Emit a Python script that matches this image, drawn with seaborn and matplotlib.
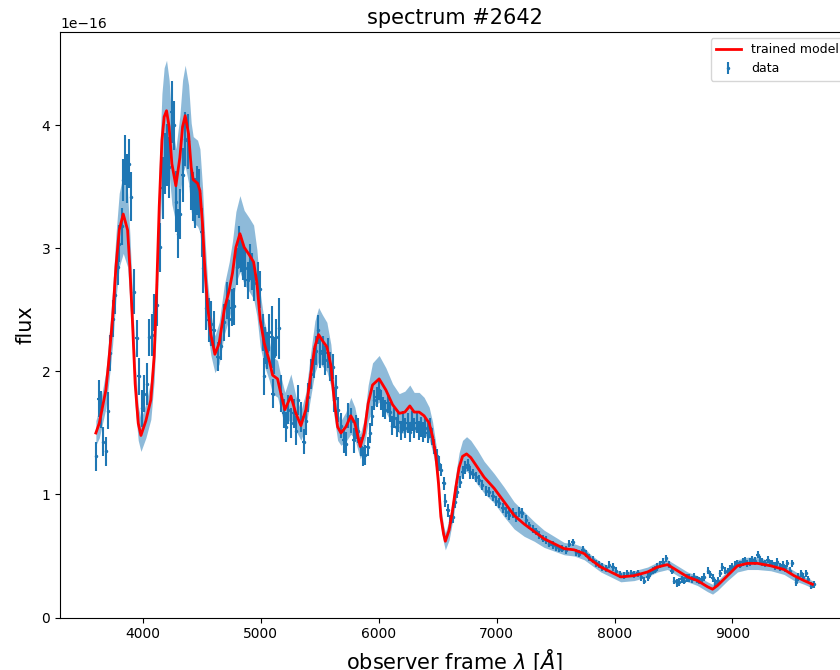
import matplotlib
matplotlib.use("Agg")
import matplotlib.pyplot as plt
from matplotlib.container import ErrorbarContainer
from matplotlib.legend_handler import HandlerErrorbar
import seaborn as sns
import numpy as np

# ---- data (flux in units of 1e-16) ----
data_wave = [3604, 3627, 3647, 3666, 3689, 3708, 3725, 3746, 3765, 3788, 3802, 3822, 3836, 3853, 3867, 3881,
             3901, 3929, 3949, 3966, 3994, 4014, 4036, 4056, 4079, 4098, 4119, 4147, 4169, 4189, 4206, 4225,
             4246, 4263, 4282, 4302, 4319, 4339, 4358, 4381, 4409, 4429, 4446, 4460, 4480, 4500, 4514, 4536,
             4559, 4579, 4602, 4636, 4664, 4692, 4714, 4734, 4754, 4776, 4799, 4819, 4833, 4850, 4870, 4890,
             4909, 4926, 4946, 4975, 4994, 5017, 5031, 5040, 5053, 5073, 5093, 5102, 5110, 5130, 5158, 5172,
             5195, 5214, 5234, 5257, 5280, 5299, 5319, 5342, 5364, 5384, 5403, 5426, 5449, 5469, 5488, 5505,
             5525, 5545, 5568, 5590, 5610, 5624, 5638, 5658, 5681, 5703, 5723, 5742, 5765, 5788, 5808, 5827,
             5850, 5869, 5886, 5907, 5926, 5943, 5963, 5983, 6000, 6019, 6039, 6056, 6076, 6096, 6113, 6132,
             6153, 6169, 6189, 6208, 6225, 6246, 6265, 6282, 6302, 6322, 6339, 6359, 6378, 6395, 6415, 6435,
             6452, 6471, 6494, 6514, 6528, 6551, 6565, 6585, 6607, 6627, 6647, 6669, 6691, 6712, 6731, 6754,
             6776, 6797, 6825, 6853, 6881, 6909, 6937, 6966, 6994, 7022, 7051, 7079, 7107, 7136, 7164, 7192,
             7220, 7248, 7276, 7305, 7333, 7361, 7390, 7418, 7446, 7475, 7503, 7531, 7559, 7587, 7615, 7644,
             7672, 7700, 7729, 7757, 7785, 7814, 7842, 7870, 7898, 7926, 7954, 7983, 8011, 8046, 8081, 8110,
             8138, 8166, 8195, 8222, 8251, 8280, 8300, 8322, 8343, 8364, 8385, 8407, 8435, 8463, 8484, 8505,
             8527, 8548, 8569, 8590, 8611, 8632, 8654, 8675, 8696, 8717, 8738, 8759, 8793, 8812, 8831, 8852,
             8873, 8894, 8915, 8937, 8958, 8979, 9000, 9021, 9042, 9064, 9085, 9106, 9127, 9148, 9169, 9190,
             9212, 9233, 9254, 9275, 9297, 9318, 9339, 9360, 9381, 9402, 9424, 9445, 9466, 9487, 9508, 9536,
             9557, 9579, 9600, 9621, 9642, 9663, 9690]
data_flux = [1.31, 1.78, 1.69, 1.43, 1.35, 1.68, 2.15, 2.43, 2.62, 2.85, 3.04, 3.18, 3.56, 3.72, 3.57, 3.69,
             3.42, 2.65, 2.27, 1.96, 1.70, 1.82, 1.90, 2.28, 2.30, 2.48, 2.54, 3.01, 3.49, 3.69, 3.76, 3.66,
             4.11, 4.00, 3.38, 3.12, 3.28, 3.60, 3.89, 3.87, 3.51, 3.42, 3.37, 3.47, 3.45, 3.13, 2.84, 2.52,
             2.42, 2.39, 2.34, 2.12, 2.21, 2.40, 2.58, 2.43, 2.52, 2.53, 2.85, 3.01, 2.96, 2.89, 2.84, 2.74,
             2.89, 2.81, 2.72, 2.74, 2.67, 2.32, 1.96, 2.21, 2.17, 2.32, 2.28, 1.82, 2.13, 2.28, 2.35, 1.82,
             1.66, 1.55, 1.69, 1.58, 1.66, 1.52, 1.77, 1.63, 1.43, 1.60, 1.79, 1.98, 2.07, 2.17, 2.34, 2.15,
             2.17, 2.09, 2.15, 2.04, 2.04, 1.77, 1.87, 1.69, 1.56, 1.44, 1.41, 1.64, 1.60, 1.44, 1.55, 1.52,
             1.39, 1.31, 1.32, 1.39, 1.50, 1.64, 1.77, 1.79, 1.85, 1.77, 1.71, 1.69, 1.74, 1.67, 1.56, 1.62,
             1.55, 1.59, 1.52, 1.60, 1.54, 1.58, 1.51, 1.60, 1.54, 1.58, 1.52, 1.55, 1.51, 1.54, 1.50, 1.54,
             1.47, 1.39, 1.31, 1.25, 1.20, 1.09, 0.95, 0.87, 0.78, 0.82, 0.94, 1.02, 1.10, 1.18, 1.22, 1.24,
             1.18, 1.17, 1.14, 1.12, 1.08, 1.03, 1.02, 0.99, 0.95, 0.93, 0.89, 0.86, 0.83, 0.85, 0.82, 0.86,
             0.85, 0.79, 0.75, 0.72, 0.70, 0.67, 0.64, 0.63, 0.60, 0.59, 0.57, 0.56, 0.56, 0.55, 0.60, 0.61,
             0.53, 0.52, 0.55, 0.52, 0.49, 0.47, 0.44, 0.43, 0.41, 0.40, 0.43, 0.41, 0.38, 0.35, 0.34, 0.36,
             0.36, 0.35, 0.36, 0.33, 0.30, 0.33, 0.36, 0.38, 0.39, 0.41, 0.43, 0.45, 0.48, 0.43, 0.38, 0.30,
             0.28, 0.29, 0.31, 0.30, 0.32, 0.32, 0.31, 0.33, 0.31, 0.30, 0.31, 0.33, 0.38, 0.35, 0.32, 0.28,
             0.30, 0.36, 0.41, 0.38, 0.37, 0.40, 0.41, 0.43, 0.44, 0.43, 0.45, 0.46, 0.44, 0.45, 0.47, 0.46,
             0.51, 0.47, 0.45, 0.44, 0.47, 0.44, 0.44, 0.42, 0.45, 0.41, 0.43, 0.40, 0.44, 0.38, 0.44, 0.29,
             0.33, 0.36, 0.33, 0.36, 0.31, 0.26, 0.27]
data_err = [0.12, 0.15, 0.15, 0.12, 0.12, 0.15, 0.15, 0.15, 0.15, 0.15, 0.15, 0.15, 0.17, 0.20, 0.20, 0.20,
            0.20, 0.18, 0.15, 0.15, 0.15, 0.15, 0.17, 0.15, 0.17, 0.15, 0.17, 0.20, 0.25, 0.25, 0.25, 0.25,
            0.25, 0.20, 0.25, 0.20, 0.20, 0.22, 0.22, 0.22, 0.20, 0.20, 0.20, 0.20, 0.20, 0.20, 0.20, 0.18,
            0.18, 0.18, 0.15, 0.12, 0.12, 0.15, 0.15, 0.15, 0.15, 0.15, 0.15, 0.17, 0.15, 0.15, 0.15, 0.15,
            0.15, 0.15, 0.15, 0.15, 0.15, 0.15, 0.15, 0.15, 0.15, 0.15, 0.25, 0.12, 0.15, 0.15, 0.25, 0.15,
            0.12, 0.12, 0.12, 0.12, 0.12, 0.12, 0.12, 0.12, 0.10, 0.12, 0.12, 0.12, 0.12, 0.12, 0.12, 0.12,
            0.12, 0.12, 0.12, 0.12, 0.10, 0.10, 0.10, 0.10, 0.10, 0.10, 0.10, 0.10, 0.10, 0.10, 0.10, 0.10,
            0.08, 0.08, 0.08, 0.08, 0.08, 0.08, 0.08, 0.08, 0.08, 0.08, 0.08, 0.08, 0.08, 0.08, 0.08, 0.08,
            0.08, 0.08, 0.08, 0.08, 0.08, 0.08, 0.08, 0.08, 0.08, 0.08, 0.08, 0.08, 0.08, 0.08, 0.08, 0.08,
            0.07, 0.06, 0.06, 0.06, 0.05, 0.05, 0.05, 0.05, 0.05, 0.05, 0.05, 0.05, 0.05, 0.05, 0.05, 0.05,
            0.05, 0.04, 0.04, 0.04, 0.04, 0.04, 0.04, 0.04, 0.04, 0.04, 0.04, 0.04, 0.04, 0.04, 0.04, 0.04,
            0.04, 0.04, 0.03, 0.03, 0.03, 0.03, 0.03, 0.03, 0.03, 0.03, 0.03, 0.03, 0.03, 0.03, 0.03, 0.03,
            0.03, 0.03, 0.03, 0.03, 0.03, 0.03, 0.03, 0.03, 0.03, 0.03, 0.03, 0.03, 0.03, 0.03, 0.03, 0.03,
            0.03, 0.03, 0.03, 0.03, 0.03, 0.03, 0.03, 0.03, 0.03, 0.03, 0.03, 0.03, 0.03, 0.03, 0.03, 0.03,
            0.03, 0.03, 0.03, 0.03, 0.03, 0.03, 0.03, 0.03, 0.03, 0.03, 0.03, 0.03, 0.03, 0.03, 0.03, 0.03,
            0.03, 0.03, 0.03, 0.03, 0.03, 0.03, 0.03, 0.03, 0.03, 0.03, 0.03, 0.03, 0.03, 0.03, 0.03, 0.03,
            0.03, 0.03, 0.03, 0.03, 0.03, 0.03, 0.03, 0.03, 0.03, 0.03, 0.03, 0.03, 0.03, 0.03, 0.03, 0.03,
            0.03, 0.03, 0.03, 0.03, 0.03, 0.03, 0.03]

model_wave = [3604, 3633, 3689, 3717, 3746, 3774, 3802, 3836, 3873, 3892, 3915, 3937, 3963, 3986, 4028, 4070,
              4098, 4119, 4141, 4164, 4183, 4203, 4225, 4248, 4282, 4316, 4339, 4361, 4390, 4412, 4429, 4466,
              4486, 4508, 4525, 4551, 4579, 4613, 4649, 4692, 4734, 4762, 4791, 4825, 4861, 4903, 4941, 4969,
              4997, 5031, 5073, 5102, 5144, 5172, 5206, 5257, 5299, 5342, 5384, 5426, 5460, 5492, 5525, 5562,
              5596, 5624, 5653, 5681, 5723, 5765, 5799, 5845, 5878, 5912, 5949, 6005, 6062, 6119, 6175, 6223,
              6265, 6302, 6344, 6386, 6429, 6458, 6486, 6508, 6528, 6551, 6566, 6598, 6627, 6655, 6683, 6712,
              6746, 6782, 6839, 6895, 6980, 7064, 7149, 7234, 7319, 7403, 7488, 7573, 7658, 7742, 7799, 7884,
              7969, 8053, 8166, 8280, 8364, 8449, 8534, 8619, 8703, 8788, 8831, 8873, 8958, 9042, 9127, 9212,
              9325, 9437, 9522, 9607, 9678]
model_flux = [1.50, 1.58, 1.85, 2.12, 2.44, 2.85, 3.15, 3.28, 3.15, 2.85, 2.39, 1.90, 1.58, 1.48, 1.60, 1.77,
              2.12, 2.66, 3.34, 3.88, 4.07, 4.12, 3.99, 3.69, 3.51, 3.74, 3.99, 4.08, 3.93, 3.66, 3.56, 3.53,
              3.47, 3.20, 2.88, 2.53, 2.30, 2.14, 2.23, 2.50, 2.66, 2.80, 3.01, 3.12, 3.01, 2.95, 2.89, 2.72,
              2.42, 2.23, 2.09, 1.97, 1.94, 1.82, 1.69, 1.80, 1.66, 1.56, 1.69, 1.98, 2.20, 2.30, 2.25, 2.20,
              2.05, 1.77, 1.55, 1.50, 1.55, 1.64, 1.58, 1.39, 1.50, 1.74, 1.89, 1.94, 1.85, 1.73, 1.66, 1.67,
              1.72, 1.67, 1.67, 1.64, 1.58, 1.47, 1.31, 1.09, 0.82, 0.68, 0.62, 0.71, 0.87, 1.06, 1.22, 1.31,
              1.33, 1.30, 1.22, 1.14, 1.05, 0.94, 0.83, 0.76, 0.70, 0.64, 0.60, 0.56, 0.55, 0.52, 0.47, 0.41,
              0.37, 0.33, 0.34, 0.37, 0.41, 0.43, 0.38, 0.33, 0.30, 0.25, 0.23, 0.26, 0.34, 0.42, 0.44, 0.44,
              0.42, 0.39, 0.34, 0.30, 0.27]
model_sigma = [0.10, 0.12, 0.15, 0.18, 0.22, 0.26, 0.30, 0.32, 0.30, 0.27, 0.22, 0.18, 0.14, 0.13, 0.14, 0.16,
               0.20, 0.26, 0.32, 0.38, 0.40, 0.41, 0.38, 0.33, 0.30, 0.34, 0.38, 0.41, 0.40, 0.36, 0.35, 0.35,
               0.34, 0.30, 0.26, 0.20, 0.17, 0.15, 0.17, 0.20, 0.23, 0.26, 0.29, 0.31, 0.30, 0.30, 0.30, 0.27,
               0.22, 0.18, 0.16, 0.15, 0.15, 0.14, 0.14, 0.18, 0.14, 0.12, 0.14, 0.18, 0.21, 0.22, 0.21, 0.20,
               0.17, 0.14, 0.11, 0.10, 0.12, 0.15, 0.13, 0.10, 0.11, 0.15, 0.18, 0.19, 0.18, 0.17, 0.16, 0.17,
               0.17, 0.16, 0.16, 0.15, 0.13, 0.12, 0.10, 0.09, 0.08, 0.07, 0.07, 0.08, 0.09, 0.11, 0.12, 0.13,
               0.14, 0.14, 0.14, 0.13, 0.12, 0.12, 0.11, 0.10, 0.08, 0.07, 0.06, 0.05, 0.05, 0.05, 0.04, 0.04,
               0.04, 0.04, 0.04, 0.04, 0.04, 0.04, 0.04, 0.04, 0.04, 0.04, 0.04, 0.04, 0.04, 0.05, 0.05, 0.05,
               0.04, 0.04, 0.04, 0.03, 0.03]

SCALE = 1e-16
XERR = 10

fig = plt.figure(figsize=(8.4, 6.7), dpi=100)
ax = fig.add_axes([60 / 840, (670 - 617.5) / 670, 790 / 840, (617.5 - 32) / 670])

mw = np.array(model_wave)
mf = np.array(model_flux) * SCALE
ms = np.array(model_sigma) * SCALE
ax.fill_between(mw, mf - ms, mf + ms, color="C0", alpha=0.5, lw=0, label="_nolegend_")

ax.errorbar(np.array(data_wave), np.array(data_flux) * SCALE, yerr=np.array(data_err) * SCALE,
            xerr=XERR, fmt=".", color="C0", ms=3, elinewidth=1.5, label="data", zorder=3)

sns.lineplot(x=mw, y=mf, color="red", lw=2, label="trained model", ax=ax, sort=False, zorder=4)

ax.set_xlim(3300, 9996)
ax.set_ylim(0, 4.76e-16)
ax.set_title("spectrum #2642", fontsize=15)
ax.set_xlabel(r"observer frame $\lambda$ [$\AA$]", fontsize=15)
ax.set_ylabel("flux", fontsize=15)
leg = ax.legend(loc="upper right", fontsize=9,
                handler_map={ErrorbarContainer: HandlerErrorbar(xerr_size=0.0001, yerr_size=0.5)})

fig.savefig("out.png", dpi=100)
